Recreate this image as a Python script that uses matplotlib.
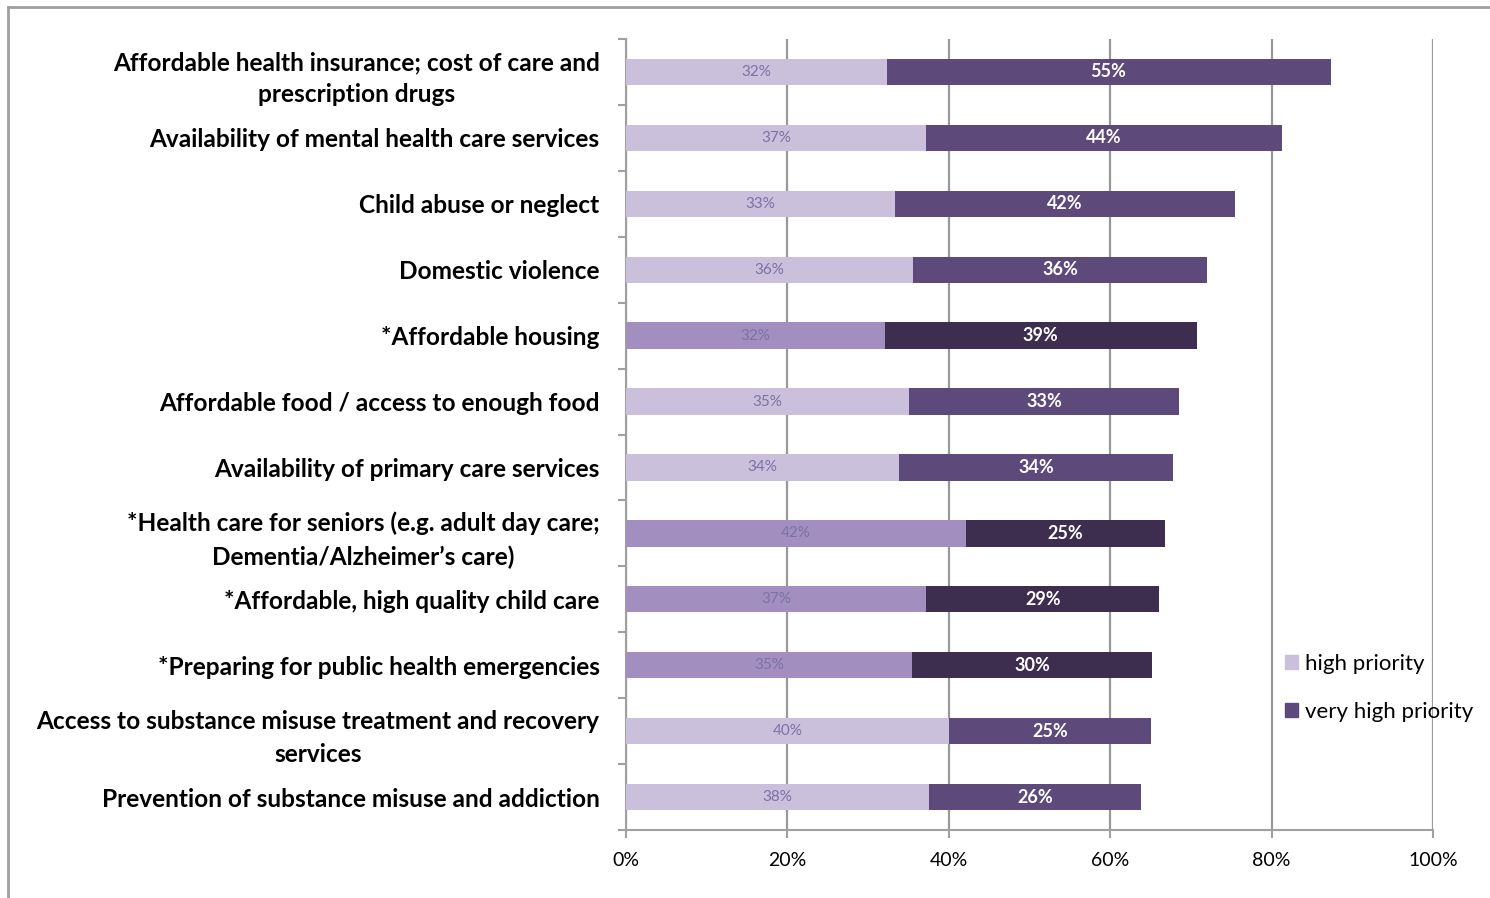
import matplotlib.pyplot as plt
from matplotlib.lines import Line2D
from matplotlib.patches import Patch

plt.rcParams['font.family'] = ['Lato', 'DejaVu Sans']

categories = [
    "Affordable health insurance; cost of care and\nprescription drugs",
    "Availability of mental health care services",
    "Child abuse or neglect",
    "Domestic violence",
    "*Affordable housing",
    "Affordable food / access to enough food",
    "Availability of primary care services",
    "*Health care for seniors (e.g. adult day care;\nDementia/Alzheimer\u2019s care)",
    "*Affordable, high quality child care",
    "*Preparing for public health emergencies",
    "Access to substance misuse treatment and recovery\nservices",
    "Prevention of substance misuse and addiction",
]
high = [32.3, 37.2, 33.3, 35.6, 32.1, 35.1, 33.8, 42.1, 37.2, 35.4, 40.0, 37.6]
very_high = [55.0, 44.1, 42.2, 36.4, 38.6, 33.4, 34.0, 24.7, 28.9, 29.8, 25.1, 26.2]
starred = [c.startswith('*') for c in categories]

light, dark = '#CAC0DB', '#5E4A7A'
light_star, dark_star = '#A38FBF', '#3D2E50'
grey = '#A0A0A0'

fig = plt.figure(figsize=(14.9, 8.98), dpi=100)
ax = fig.add_axes([626 / 1490, 1 - 830 / 898, 807 / 1490, 791 / 898])

y = list(range(len(categories)))
c1 = [light_star if s else light for s in starred]
c2 = [dark_star if s else dark for s in starred]
ax.barh(y, high, height=0.4, color=c1, zorder=3)
ax.barh(y, very_high, left=high, height=0.4, color=c2, zorder=3)

for i in y:
    ax.text(high[i] / 2, i, f"{round(high[i])}%", ha='center', va='center',
            fontsize=11, color='#7B72A6', zorder=4)
    ax.text(high[i] + very_high[i] / 2, i, f"{round(very_high[i])}%", ha='center',
            va='center', fontsize=13, fontweight='bold', color='white', zorder=4)

ax.set_xlim(0, 100)
ax.set_ylim(len(categories) - 0.5, -0.5)
ax.set_xticks(range(0, 101, 20))
ax.set_xticklabels([f"{v}%" for v in range(0, 101, 20)], fontsize=14)
ax.tick_params(axis='x', length=6, color=grey, pad=10, width=1.5)
ax.set_yticks(y)
ax.set_yticklabels(categories, fontsize=17.6, fontweight='bold', multialignment='center',
                   linespacing=1.5)
ax.tick_params(axis='y', length=0, pad=19)
ax.set_yticks([i - 0.5 for i in range(len(categories) + 1)], minor=True)
ax.tick_params(axis='y', which='minor', length=6, color=grey, width=1.5)
ax.xaxis.grid(True, color='#999999', linewidth=1.6, zorder=0)
for s in ['top', 'right']:
    ax.spines[s].set_visible(False)
for s in ['left', 'bottom']:
    ax.spines[s].set_color(grey)
    ax.spines[s].set_linewidth(1.5)

handles = [Patch(color=light), Patch(color=dark)]
fig.legend(handles, ['high priority', 'very high priority'], loc='upper left',
           bbox_to_anchor=(1265 / 1490, 1 - 634 / 898), frameon=False,
           fontsize=16, handlelength=0.6, handleheight=0.6, handletextpad=0.3,
           labelspacing=1.25)

# outer frame
fig.add_artist(Line2D([8 / 1490, 1], [1 - 7 / 898] * 2, color='#A0A0A0', lw=2))
fig.add_artist(Line2D([8 / 1490] * 2, [0, 1 - 7 / 898], color='#A0A0A0', lw=2))

fig.savefig('out.png', dpi=100)
